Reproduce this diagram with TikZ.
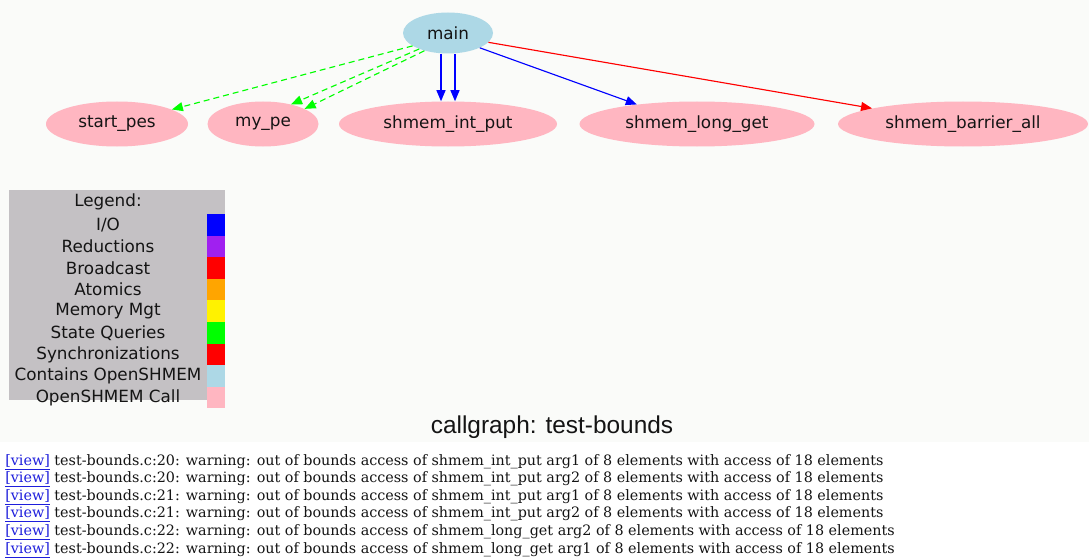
\documentclass[tikz,border=0pt]{standalone}
\usepackage{fontspec}
\setmainfont{DejaVu Serif}
\newfontfamily\nodefont{DejaVu Sans}
\newfontfamily\titlefont{Liberation Sans}
\usetikzlibrary{shapes.geometric,arrows.meta,calc}
\definecolor{bgtint}{RGB}{250,251,249}
\definecolor{lblue}{RGB}{173,216,230}
\definecolor{lpink}{RGB}{255,182,193}
\definecolor{lgray}{RGB}{196,193,196}
\definecolor{cpurple}{RGB}{160,32,240}
\definecolor{corange}{RGB}{255,165,0}
\definecolor{linkblue}{RGB}{30,30,220}
\definecolor{txt}{RGB}{20,20,20}
\begin{document}
\begin{tikzpicture}[x=0.75pt,y=-0.75pt,
  fn/.style={ellipse, fill=lpink, draw=none, inner sep=0pt, minimum height=33.75pt,
    font=\nodefont\fontsize{12.6}{14}\selectfont, text=txt},
  call/.style={-{Triangle[length=8.25pt,width=6.75pt]}, line width=0.85pt},
  dsh/.style={dash pattern=on 4.5pt off 3pt},
  legtext/.style={font=\nodefont\fontsize{12.6}{14}\selectfont, text=txt, inner sep=0pt},
  warn/.style={anchor=west, inner sep=0pt, font=\fontsize{10.75}{13}\selectfont, text=txt}
]
\useasboundingbox (0,0) rectangle (1089,560);
\fill[white] (0,0) rectangle (1089,560);
\fill[bgtint] (0,0) rectangle (1089,442);

% graph nodes
\node[fn, fill=lblue, minimum width=67.5pt, minimum height=30.75pt] (main) at (448,33) {main};
\node[fn, minimum width=106.5pt] (sp) at (117,124) {start\_pes};
\node[fn, minimum width=83.25pt] (mype) at (263,124) {my\_pe};
\node[fn, minimum width=163.5pt] (intput) at (448,124) {shmem\_int\_put};
\node[fn, minimum width=176.25pt] (longget) at (697,124) {shmem\_long\_get};
\node[fn, minimum width=187.5pt] (barrier) at (963,124) {shmem\_barrier\_all};

% edges
\draw[call, green, dsh] (main.200) -- (sp);
\draw[call, green, dsh] (main.209) -- (mype.35);
\draw[call, green, dsh] (main.217) -- (mype.20);
\draw[call, blue] ($(main.south)+(-7,0)$) -- ($(intput.north)+(-7,0)$);
\draw[call, blue] ($(main.south)+(7,0)$) -- ($(intput.north)+(7,0)$);
\draw[call, blue] (main.335) -- (longget.162);
\draw[call, red] (main.347) -- (barrier);

% legend
\fill[lgray] (9,190) rectangle (225,400);
\foreach \c [count=\i from 0] in {blue, cpurple, red, corange, yellow, green, red, lblue, lpink}{
  \fill[\c] (207,{214+21.6*\i}) rectangle (225,{235.6+21.6*\i});
}
\node[legtext] (leg0) at (108,202) {Legend:};
\node[legtext] (leg1) at (108,224.8) {I/O};
\node[legtext] (leg2) at (108,246.4) {Reductions};
\node[legtext] (leg3) at (108,268.0) {Broadcast};
\node[legtext] (leg4) at (108,289.6) {Atomics};
\node[legtext] (leg5) at (108,311.2) {Memory Mgt};
\node[legtext] (leg6) at (108,332.8) {State Queries};
\node[legtext] (leg7) at (108,354.4) {Synchronizations};
\node[legtext] (leg8) at (108,376.0) {Contains OpenSHMEM};
\node[legtext] (leg9) at (108,397.6) {OpenSHMEM Call};

% title
\node[font=\titlefont\fontsize{18.3}{22}\selectfont, text=txt, inner sep=0pt] (title) at (552,427) {callgraph: test-bounds};

% warnings
\node[warn] (w1) at (5,462) {{\color{linkblue}\underline{[view]}} test-bounds.c:20: warning: out of bounds access of shmem\_int\_put arg1 of 8 elements with access of 18 elements};
\node[warn] (w2) at (5,479.6) {{\color{linkblue}\underline{[view]}} test-bounds.c:20: warning: out of bounds access of shmem\_int\_put arg2 of 8 elements with access of 18 elements};
\node[warn] (w3) at (5,497.2) {{\color{linkblue}\underline{[view]}} test-bounds.c:21: warning: out of bounds access of shmem\_int\_put arg1 of 8 elements with access of 18 elements};
\node[warn] (w4) at (5,514.8) {{\color{linkblue}\underline{[view]}} test-bounds.c:21: warning: out of bounds access of shmem\_int\_put arg2 of 8 elements with access of 18 elements};
\node[warn] (w5) at (5,532.4) {{\color{linkblue}\underline{[view]}} test-bounds.c:22: warning: out of bounds access of shmem\_long\_get arg2 of 8 elements with access of 18 elements};
\node[warn] (w6) at (5,550) {{\color{linkblue}\underline{[view]}} test-bounds.c:22: warning: out of bounds access of shmem\_long\_get arg1 of 8 elements with access of 18 elements};
\end{tikzpicture}
\end{document}
